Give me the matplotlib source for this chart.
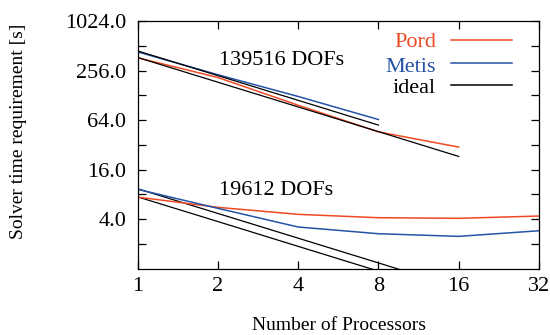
import matplotlib
matplotlib.use("Agg")
import matplotlib.pyplot as plt
from matplotlib.ticker import FixedLocator, NullFormatter, FixedFormatter

plt.rcParams['font.family'] = ['Liberation Serif', 'DejaVu Serif']

# Data
procs = [1, 2, 4, 8, 16, 32]
pord_large = [367, 211, 97, 46, 30]
metis_large = [433, 228, 124, 65]
ideal_large_pord = [370, 185, 92.5, 46.3, 23.1]
ideal_large_metis = [445, 222.5, 111.3, 55.6]
pord_small = [7.4, 5.55, 4.56, 4.15, 4.08, 4.35]
metis_small = [9.2, 5.4, 3.2, 2.65, 2.46, 2.88]
ideal_small_pord = [7.45, 3.73, 1.86, 0.93, 0.47]
ideal_small_metis = [9.35, 4.68, 2.34, 1.17, 0.58]

xtick_labels = ["1", "2", "4", "8", "16", "32"]
ytick_vals = [4, 16, 64, 256, 1024]
ytick_labels = ["4.0", "16.0", "64.0", "256.0", "1024.0"]

RED = '#f04a25'
BLUE = '#2553a6'
lw = 1.1

fig = plt.figure(figsize=(5.5, 3.35), dpi=100)
ax = fig.add_axes([0.25, 0.1985, 0.73, 0.7385])
ax.set_xscale('log', base=2)
ax.set_yscale('log', base=2)

ax.plot(procs[:len(pord_large)], pord_large, color=RED, lw=lw)
ax.plot(procs[:len(metis_large)], metis_large, color=BLUE, lw=lw)
ax.plot(procs[:len(ideal_large_pord)], ideal_large_pord, color='black', lw=0.9)
ax.plot(procs[:len(ideal_large_metis)], ideal_large_metis, color='black', lw=0.9)
ax.plot(procs[:len(ideal_small_pord)], ideal_small_pord, color='black', lw=0.9)
ax.plot(procs[:len(ideal_small_metis)], ideal_small_metis, color='black', lw=0.9)
ax.plot(procs[:len(pord_small)], pord_small, color=RED, lw=lw)
ax.plot(procs[:len(metis_small)], metis_small, color=BLUE, lw=lw)

ax.set_xlim(1, 32)
ax.set_ylim(1, 1024)

ax.xaxis.set_major_locator(FixedLocator(procs))
ax.xaxis.set_major_formatter(FixedFormatter(xtick_labels))
ax.xaxis.set_minor_locator(FixedLocator([]))
ax.yaxis.set_major_locator(FixedLocator(ytick_vals))
ax.yaxis.set_major_formatter(FixedFormatter(ytick_labels))
ax.yaxis.set_minor_locator(FixedLocator([2, 8, 32, 128, 512]))
ax.yaxis.set_minor_formatter(NullFormatter())

ax.tick_params(which='both', direction='in', top=True, right=True,
               length=6, width=0.9, labelsize=16)
ax.tick_params(axis='y', pad=8)
ax.tick_params(axis='x', pad=6)
for s in ax.spines.values():
    s.set_linewidth(0.9)

fig.text(338.5 / 550, 0.004, "Number of Processors", fontsize=14,
         ha='center', va='bottom')
fig.text(19 / 550, 1 - 131.5 / 335, "Solver time requirement [s]", fontsize=14,
         ha='center', va='center', rotation=90)

ax.text(0.203, 0.822, "139516 DOFs", transform=ax.transAxes, fontsize=16,
        ha='left', va='baseline')
ax.text(0.204, 0.297, "19612 DOFs", transform=ax.transAxes, fontsize=16,
        ha='left', va='baseline')

# Legend (gnuplot style)
leg_entries = [("Pord", RED), ("Metis", BLUE), ("ideal", 'black')]
text_y = [0.895, 0.795, 0.710]
line_y = [0.923, 0.832, 0.741]
for (lab, col), ty, ly in zip(leg_entries, text_y, line_y):
    ax.text(0.743, ty, lab, transform=ax.transAxes, fontsize=16, color=col,
            ha='right', va='baseline')
    ax.plot([0.781, 0.932], [ly, ly], transform=ax.transAxes, color=col, lw=lw)

fig.savefig("out.png", dpi=100)
